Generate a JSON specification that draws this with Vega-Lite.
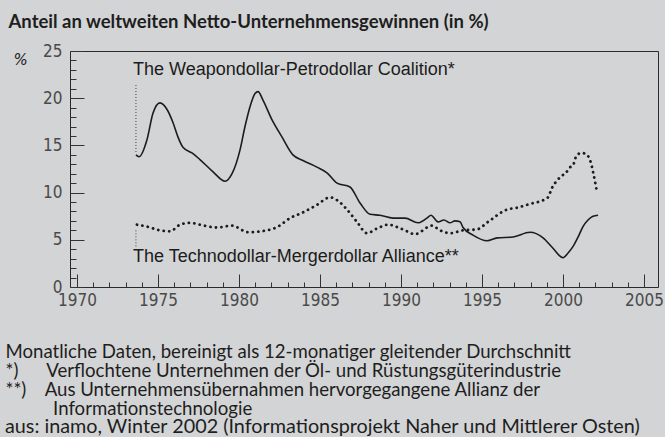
{
  "$schema": "https://vega.github.io/schema/vega-lite/v6.json",
  "width": 588,
  "height": 236,
  "autosize": {"type": "none"},
  "padding": {"left": 70, "top": 51, "right": 7, "bottom": 150},
  "background": "#d3d4d5",
  "config": {
    "view": {"stroke": "#2a2a2a", "strokeWidth": 1},
    "font": "Lato"
  },
  "title": {
    "text": "aus: inamo, Winter 2002 (Informationsprojekt Naher und Mittlerer Osten)",
    "orient": "bottom",
    "anchor": "start",
    "frame": "group",
    "dx": -65,
    "offset": 15,
    "font": "Lato",
    "fontWeight": "normal",
    "fontSize": 19.8,
    "color": "#1e1e1e",
    "baseline": "alphabetic"
  },
  "datasets": {
    "series": [
      {"year": 1973.64, "share": 14.0, "series": "Weapondollar-Petrodollar"},
      {"year": 1973.83, "share": 13.8, "series": "Weapondollar-Petrodollar"},
      {"year": 1974.32, "share": 15.6, "series": "Weapondollar-Petrodollar"},
      {"year": 1974.69, "share": 18.4, "series": "Weapondollar-Petrodollar"},
      {"year": 1975.12, "share": 19.5, "series": "Weapondollar-Petrodollar"},
      {"year": 1975.56, "share": 18.8, "series": "Weapondollar-Petrodollar"},
      {"year": 1975.93, "share": 17.4, "series": "Weapondollar-Petrodollar"},
      {"year": 1976.23, "share": 15.9, "series": "Weapondollar-Petrodollar"},
      {"year": 1976.54, "share": 14.8, "series": "Weapondollar-Petrodollar"},
      {"year": 1977.10, "share": 14.2, "series": "Weapondollar-Petrodollar"},
      {"year": 1977.59, "share": 13.5, "series": "Weapondollar-Petrodollar"},
      {"year": 1978.40, "share": 12.2, "series": "Weapondollar-Petrodollar"},
      {"year": 1979.14, "share": 11.2, "series": "Weapondollar-Petrodollar"},
      {"year": 1979.57, "share": 12.0, "series": "Weapondollar-Petrodollar"},
      {"year": 1980.06, "share": 14.5, "series": "Weapondollar-Petrodollar"},
      {"year": 1980.37, "share": 17.0, "series": "Weapondollar-Petrodollar"},
      {"year": 1980.68, "share": 19.1, "series": "Weapondollar-Petrodollar"},
      {"year": 1980.99, "share": 20.5, "series": "Weapondollar-Petrodollar"},
      {"year": 1981.18, "share": 20.7, "series": "Weapondollar-Petrodollar"},
      {"year": 1981.48, "share": 19.8, "series": "Weapondollar-Petrodollar"},
      {"year": 1982.04, "share": 17.7, "series": "Weapondollar-Petrodollar"},
      {"year": 1982.65, "share": 15.9, "series": "Weapondollar-Petrodollar"},
      {"year": 1983.33, "share": 14.0, "series": "Weapondollar-Petrodollar"},
      {"year": 1983.95, "share": 13.4, "series": "Weapondollar-Petrodollar"},
      {"year": 1984.81, "share": 12.7, "series": "Weapondollar-Petrodollar"},
      {"year": 1985.43, "share": 12.1, "series": "Weapondollar-Petrodollar"},
      {"year": 1986.05, "share": 11.0, "series": "Weapondollar-Petrodollar"},
      {"year": 1986.85, "share": 10.6, "series": "Weapondollar-Petrodollar"},
      {"year": 1987.47, "share": 8.9, "series": "Weapondollar-Petrodollar"},
      {"year": 1988.09, "share": 7.7, "series": "Weapondollar-Petrodollar"},
      {"year": 1988.70, "share": 7.6, "series": "Weapondollar-Petrodollar"},
      {"year": 1989.51, "share": 7.3, "series": "Weapondollar-Petrodollar"},
      {"year": 1990.25, "share": 7.3, "series": "Weapondollar-Petrodollar"},
      {"year": 1991.05, "share": 6.8, "series": "Weapondollar-Petrodollar"},
      {"year": 1991.60, "share": 7.3, "series": "Weapondollar-Petrodollar"},
      {"year": 1991.85, "share": 7.6, "series": "Weapondollar-Petrodollar"},
      {"year": 1992.28, "share": 6.9, "series": "Weapondollar-Petrodollar"},
      {"year": 1992.65, "share": 7.1, "series": "Weapondollar-Petrodollar"},
      {"year": 1993.02, "share": 6.8, "series": "Weapondollar-Petrodollar"},
      {"year": 1993.33, "share": 7.0, "series": "Weapondollar-Petrodollar"},
      {"year": 1993.64, "share": 6.9, "series": "Weapondollar-Petrodollar"},
      {"year": 1993.83, "share": 6.3, "series": "Weapondollar-Petrodollar"},
      {"year": 1994.44, "share": 5.5, "series": "Weapondollar-Petrodollar"},
      {"year": 1995.31, "share": 4.9, "series": "Weapondollar-Petrodollar"},
      {"year": 1995.93, "share": 5.2, "series": "Weapondollar-Petrodollar"},
      {"year": 1996.91, "share": 5.3, "series": "Weapondollar-Petrodollar"},
      {"year": 1997.96, "share": 5.8, "series": "Weapondollar-Petrodollar"},
      {"year": 1998.77, "share": 5.2, "series": "Weapondollar-Petrodollar"},
      {"year": 1999.38, "share": 4.1, "series": "Weapondollar-Petrodollar"},
      {"year": 2000.00, "share": 3.1, "series": "Weapondollar-Petrodollar"},
      {"year": 2000.31, "share": 3.6, "series": "Weapondollar-Petrodollar"},
      {"year": 2000.62, "share": 4.3, "series": "Weapondollar-Petrodollar"},
      {"year": 2000.93, "share": 5.3, "series": "Weapondollar-Petrodollar"},
      {"year": 2001.23, "share": 6.4, "series": "Weapondollar-Petrodollar"},
      {"year": 2001.54, "share": 7.1, "series": "Weapondollar-Petrodollar"},
      {"year": 2001.85, "share": 7.5, "series": "Weapondollar-Petrodollar"},
      {"year": 2002.16, "share": 7.6, "series": "Weapondollar-Petrodollar"},
      {"year": 1973.70, "share": 6.6, "series": "Technodollar-Mergerdollar"},
      {"year": 1974.32, "share": 6.4, "series": "Technodollar-Mergerdollar"},
      {"year": 1975.12, "share": 6.0, "series": "Technodollar-Mergerdollar"},
      {"year": 1975.74, "share": 5.9, "series": "Technodollar-Mergerdollar"},
      {"year": 1976.36, "share": 6.6, "series": "Technodollar-Mergerdollar"},
      {"year": 1976.98, "share": 6.8, "series": "Technodollar-Mergerdollar"},
      {"year": 1977.59, "share": 6.6, "series": "Technodollar-Mergerdollar"},
      {"year": 1978.64, "share": 6.3, "series": "Technodollar-Mergerdollar"},
      {"year": 1979.57, "share": 6.5, "series": "Technodollar-Mergerdollar"},
      {"year": 1980.56, "share": 5.8, "series": "Technodollar-Mergerdollar"},
      {"year": 1981.73, "share": 6.0, "series": "Technodollar-Mergerdollar"},
      {"year": 1982.41, "share": 6.4, "series": "Technodollar-Mergerdollar"},
      {"year": 1983.15, "share": 7.3, "series": "Technodollar-Mergerdollar"},
      {"year": 1983.95, "share": 7.9, "series": "Technodollar-Mergerdollar"},
      {"year": 1984.81, "share": 8.7, "series": "Technodollar-Mergerdollar"},
      {"year": 1985.62, "share": 9.5, "series": "Technodollar-Mergerdollar"},
      {"year": 1986.05, "share": 9.2, "series": "Technodollar-Mergerdollar"},
      {"year": 1986.67, "share": 8.2, "series": "Technodollar-Mergerdollar"},
      {"year": 1987.28, "share": 6.9, "series": "Technodollar-Mergerdollar"},
      {"year": 1987.90, "share": 5.7, "series": "Technodollar-Mergerdollar"},
      {"year": 1988.52, "share": 6.2, "series": "Technodollar-Mergerdollar"},
      {"year": 1989.20, "share": 6.6, "series": "Technodollar-Mergerdollar"},
      {"year": 1990.12, "share": 6.1, "series": "Technodollar-Mergerdollar"},
      {"year": 1990.86, "share": 5.6, "series": "Technodollar-Mergerdollar"},
      {"year": 1991.91, "share": 6.5, "series": "Technodollar-Mergerdollar"},
      {"year": 1992.41, "share": 6.0, "series": "Technodollar-Mergerdollar"},
      {"year": 1993.02, "share": 5.7, "series": "Technodollar-Mergerdollar"},
      {"year": 1993.83, "share": 6.0, "series": "Technodollar-Mergerdollar"},
      {"year": 1994.69, "share": 6.1, "series": "Technodollar-Mergerdollar"},
      {"year": 1995.37, "share": 6.9, "series": "Technodollar-Mergerdollar"},
      {"year": 1996.54, "share": 8.2, "series": "Technodollar-Mergerdollar"},
      {"year": 1997.16, "share": 8.4, "series": "Technodollar-Mergerdollar"},
      {"year": 1997.96, "share": 8.8, "series": "Technodollar-Mergerdollar"},
      {"year": 1998.89, "share": 9.3, "series": "Technodollar-Mergerdollar"},
      {"year": 1999.07, "share": 9.5, "series": "Technodollar-Mergerdollar"},
      {"year": 1999.32, "share": 10.5, "series": "Technodollar-Mergerdollar"},
      {"year": 1999.69, "share": 11.4, "series": "Technodollar-Mergerdollar"},
      {"year": 1999.94, "share": 11.8, "series": "Technodollar-Mergerdollar"},
      {"year": 2000.19, "share": 12.1, "series": "Technodollar-Mergerdollar"},
      {"year": 2000.37, "share": 12.6, "series": "Technodollar-Mergerdollar"},
      {"year": 2000.62, "share": 12.9, "series": "Technodollar-Mergerdollar"},
      {"year": 2000.80, "share": 13.8, "series": "Technodollar-Mergerdollar"},
      {"year": 2001.11, "share": 14.2, "series": "Technodollar-Mergerdollar"},
      {"year": 2001.42, "share": 14.1, "series": "Technodollar-Mergerdollar"},
      {"year": 2001.60, "share": 13.7, "series": "Technodollar-Mergerdollar"},
      {"year": 2001.73, "share": 13.1, "series": "Technodollar-Mergerdollar"},
      {"year": 2001.85, "share": 12.2, "series": "Technodollar-Mergerdollar"},
      {"year": 2001.98, "share": 11.1, "series": "Technodollar-Mergerdollar"},
      {"year": 2002.10, "share": 10.0, "series": "Technodollar-Mergerdollar"}
    ],
    "leaders": [
      {"year": 1973.64, "from": 21.4, "to": 14.2},
      {"year": 1973.64, "from": 6.0, "to": 4.2}
    ],
    "labels": [
      {"year": 1973.46, "share": 23.0, "label": "The Weapondollar-Petrodollar Coalition*"},
      {"year": 1973.46, "share": 3.2, "label": "The Technodollar-Mergerdollar Alliance**"}
    ]
  },
  "encoding": {
    "x": {
      "field": "year",
      "type": "quantitative",
      "scale": {"domain": [1969.57, 2005.86], "nice": false, "zero": false},
      "axis": null
    },
    "y": {
      "field": "share",
      "type": "quantitative",
      "scale": {"domain": [0, 25], "nice": false},
      "axis": {
        "values": [0,1,2,3,4,5,6,7,8,9,10,11,12,13,14,15,16,17,18,19,20,21,22,23,24,25],
        "labelExpr": "datum.value % 5 === 0 ? datum.label : ''",
        "labelOverlap": false,
        "labelFlush": false,
        "domain": false,
        "grid": false,
        "tickColor": "#333333",
        "tickWidth": 1,
        "tickSize": {"condition": {"test": "datum.value % 5 === 0", "value": -14}, "value": -6},
        "labelPadding": 22,
        "labelFont": "Liberation Sans Narrow, DejaVu Sans Condensed, sans-serif",
        "labelFontSize": 17,
        "labelColor": "#4a4a4a",
        "title": "%",
        "titleAngle": 0,
        "titleX": -50,
        "titleY": 8,
        "titleAlign": "center",
        "titleBaseline": "middle",
        "titleFont": "DejaVu Sans",
        "titleFontSize": 15,
        "titleFontStyle": "italic",
        "titleFontWeight": "normal",
        "titleColor": "#222222"
      }
    }
  },
  "resolve": {"axis": {"x": "independent"}},
  "layer": [
    {
      "data": {"name": "series"},
      "transform": [{"filter": "datum.series === 'Weapondollar-Petrodollar'"}],
      "mark": {"type": "line", "interpolate": "monotone", "color": "#1c1c1c", "strokeWidth": 1.6},
      "encoding": {
        "x": {
          "field": "year",
          "type": "quantitative",
          "scale": {"domain": [1969.57, 2005.86], "nice": false, "zero": false},
          "axis": {
            "orient": "bottom",
            "values": [1970,1971,1972,1973,1974,1975,1976,1977,1978,1979,1980,1981,1982,1983,1984,1985,1986,1987,1988,1989,1990,1991,1992,1993,1994,1995,1996,1997,1998,1999,2000,2001,2002,2003,2004,2005],
            "format": "d",
            "labelExpr": "datum.value % 5 === 0 ? datum.label : ''",
            "labelOverlap": false,
            "labelFlush": false,
            "domain": false,
            "grid": false,
            "tickColor": "#333333",
            "tickWidth": 1,
            "tickSize": {"condition": {"test": "datum.value % 5 === 0", "value": -13}, "value": -5},
            "labelPadding": 18,
            "labelFont": "Liberation Sans Narrow, DejaVu Sans Condensed, sans-serif",
            "labelFontSize": 17,
            "labelColor": "#4a4a4a",
            "labelBaseline": "top",
            "title": [
              "Monatliche Daten, bereinigt als 12-monatiger gleitender Durchschnitt",
              "*)\u00a0\u00a0\u00a0\u00a0\u00a0\u00a0Verflochtene Unternehmen der Öl- und Rüstungsgüterindustrie",
              "**)\u00a0\u00a0\u00a0\u00a0Aus Unternehmensübernahmen hervorgegangene Allianz der",
              "\u200b\u00a0\u00a0\u00a0\u00a0\u00a0\u00a0\u00a0\u00a0\u00a0\u00a0Informationstechnologie"
            ],
            "titleX": -65,
            "titleY": 55,
            "titleAlign": "left",
            "titleAnchor": "start",
            "titleBaseline": "top",
            "titleFont": "Lato",
            "titleFontSize": 18.6,
            "titleFontWeight": "normal",
            "titleColor": "#1e1e1e",
            "titleLineHeight": 19.2
          }
        }
      }
    },
    {
      "data": {"name": "series"},
      "transform": [{"filter": "datum.series === 'Technodollar-Mergerdollar'"}],
      "mark": {"type": "line", "interpolate": "monotone", "color": "#1c1c1c", "strokeWidth": 2.8, "strokeCap": "round", "strokeDash": [0.1, 5.4]}
    },
    {
      "data": {"name": "leaders"},
      "mark": {"type": "rule", "color": "#444444", "strokeWidth": 1, "strokeDash": [1, 2]},
      "encoding": {
        "y": {"field": "from", "type": "quantitative"},
        "y2": {"field": "to"}
      }
    },
    {
      "data": {"name": "labels"},
      "mark": {"type": "text", "align": "left", "baseline": "middle", "font": "Liberation Sans", "fontSize": 18, "color": "#1c1c1c"},
      "encoding": {
        "x": {
          "field": "year",
          "type": "quantitative",
          "scale": {"domain": [1969.57, 2005.86], "nice": false, "zero": false},
          "axis": {
            "orient": "top",
            "domain": false,
            "ticks": false,
            "labels": false,
            "grid": false,
            "title": "Anteil an weltweiten Netto-Unternehmensgewinnen (in %)",
            "titleX": -62,
            "titleY": -24,
            "titleAlign": "left",
            "titleAnchor": "start",
            "titleAngle": 0,
            "titleBaseline": "alphabetic",
            "titleFont": "Lato",
            "titleFontWeight": "bold",
            "titleFontSize": 18.5,
            "titleColor": "#1e1e1e"
          }
        },
        "text": {"field": "label"}
      }
    }
  ]
}
